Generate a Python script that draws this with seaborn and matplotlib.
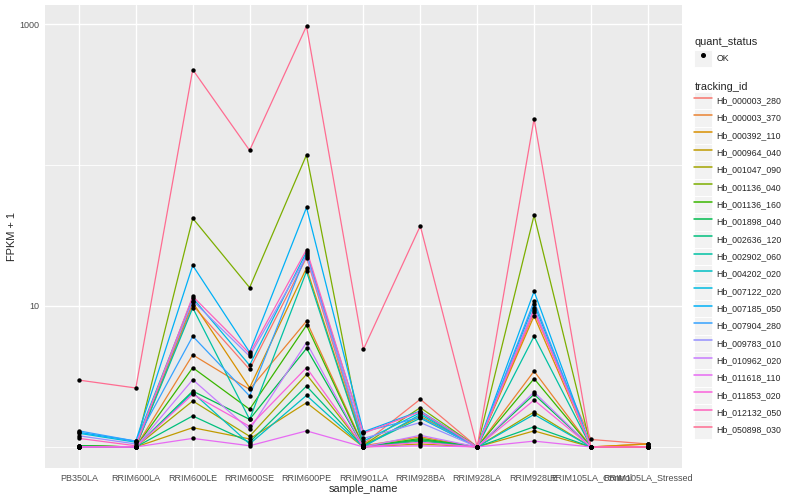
import pandas as pd
import numpy as np
import seaborn as sns
import matplotlib.pyplot as plt
from matplotlib.lines import Line2D
from matplotlib.patches import Rectangle
from matplotlib.legend_handler import HandlerLine2D
from matplotlib.ticker import FixedLocator, NullFormatter

# samples (x axis order)
samples = ["PB350LA", "RRIM600LA", "RRIM600LE", "RRIM600SE", "RRIM600PE",
           "RRIM901LA", "RRIM928BA", "RRIM928LA", "RRIM928LE",
           "RRIM105LA_Control", "RRIM105LA_Stressed"]

tracking_ids = ["Hb_000003_280", "Hb_000003_370", "Hb_000392_110", "Hb_000964_040",
                "Hb_001047_090", "Hb_001136_040", "Hb_001136_160", "Hb_001898_040",
                "Hb_002636_120", "Hb_002902_060", "Hb_004202_020", "Hb_007122_020",
                "Hb_007185_050", "Hb_007904_280", "Hb_009783_010", "Hb_010962_020",
                "Hb_011618_110", "Hb_011853_020", "Hb_012132_050", "Hb_050898_030"]

# FPKM + 1, one row per tracking_id, columns follow samples
fpkm1 = [
    [1.00, 1.00, 10.1, 3.55, 22.0, 1.05, 2.18, 1.0, 9.0, 1.13, 1.05],
    [1.00, 1.00, 4.5, 2.56, 7.8, 1.02, 1.18, 1.0, 3.45, 1.0, 1.05],
    [1.00, 1.00, 10.6, 2.63, 18.6, 1.03, 1.65, 1.0, 8.5, 1.0, 1.05],
    [1.00, 1.00, 1.37, 1.14, 2.06, 1.00, 1.05, 1.0, 1.30, 1.0, 1.0],
    [1.02, 1.00, 2.12, 1.19, 3.27, 1.00, 1.12, 1.0, 1.77, 1.0, 1.0],
    [1.02, 1.00, 41.9, 13.5, 118.0, 1.03, 1.90, 1.0, 44.0, 1.0, 1.0],
    [1.02, 1.00, 3.65, 1.85, 7.3, 1.00, 1.15, 1.0, 3.05, 1.0, 1.0],
    [1.02, 1.00, 2.49, 1.57, 5.0, 1.00, 1.13, 1.0, 2.36, 1.0, 1.0],
    [1.00, 1.00, 1.66, 1.08, 2.7, 1.00, 1.10, 1.0, 1.39, 1.0, 1.0],
    [1.00, 1.00, 9.7, 1.57, 17.6, 1.02, 1.60, 1.0, 6.1, 1.0, 1.0],
    [1.00, 1.00, 2.43, 1.05, 2.32, 1.00, 1.70, 1.0, 1.70, 1.0, 1.0],
    [1.25, 1.08, 11.4, 3.8, 24.2, 1.10, 1.75, 1.0, 10.3, 1.0, 1.0],
    [1.27, 1.10, 19.4, 4.7, 50.0, 1.28, 1.80, 1.0, 12.7, 1.0, 1.0],
    [1.30, 1.10, 6.1, 2.3, 23.4, 1.28, 1.62, 1.0, 10.8, 1.0, 1.0],
    [1.20, 1.05, 10.9, 4.4, 22.6, 1.15, 1.49, 1.0, 9.7, 1.0, 1.0],
    [1.00, 1.00, 3.0, 1.33, 5.5, 1.00, 1.21, 1.0, 2.45, 1.0, 1.0],
    [1.00, 1.00, 1.15, 1.02, 1.30, 1.00, 1.02, 1.0, 1.10, 1.0, 1.0],
    [1.00, 1.00, 2.36, 1.40, 3.65, 1.00, 1.08, 1.0, 2.15, 1.0, 1.0],
    [1.15, 1.02, 11.7, 4.6, 25.1, 1.25, 1.78, 1.0, 9.3, 1.0, 1.0],
    [2.98, 2.62, 475.0, 127.0, 968.0, 4.92, 37.0, 1.0, 213.0, 1.0, 1.0],
]

# ggplot hue palette, 20 levels
colors = ["#F8766D", "#EA8331", "#D89000", "#C09B00", "#A3A500", "#7CAE00",
          "#39B600", "#00BB4E", "#00BF7D", "#00C1A3", "#00BFC4", "#00BAE0",
          "#00B0F6", "#35A2FF", "#9590FF", "#C77CFF", "#E76BF3", "#FA62DB",
          "#FF62BC", "#FF6C91"]

rows = []
for tid, vals in zip(tracking_ids, fpkm1):
    for s, v in zip(samples, vals):
        rows.append({"tracking_id": tid, "sample_name": s, "fpkm1": v, "quant_status": "OK"})
df = pd.DataFrame(rows)

sns.set_style("darkgrid", {"axes.facecolor": "#EBEBEB", "grid.color": "white"})
plt.rcParams["font.family"] = ["Liberation Sans", "DejaVu Sans"]

fig, ax = plt.subplots(figsize=(8, 5), dpi=100)
fig.subplots_adjust(left=0.056, right=0.8525, top=0.99, bottom=0.064)

sns.lineplot(data=df, x="sample_name", y="fpkm1", hue="tracking_id",
             palette=colors, estimator=None, sort=False, linewidth=0.9,
             legend=False, ax=ax, zorder=3)
sns.scatterplot(data=df, x="sample_name", y="fpkm1", color="black", s=10,
                linewidth=0, legend=False, ax=ax, zorder=4)

ax.set_yscale("log")
ax.margins(y=0.05)
ax.set_xlim(-0.6, len(samples) - 0.4)
ax.yaxis.set_major_locator(FixedLocator([10, 1000]))
ax.yaxis.set_minor_locator(FixedLocator([1, 100]))
ax.yaxis.set_minor_formatter(NullFormatter())
ax.set_yticklabels(["10", "1000"])
ax.grid(which="major", color="white", linewidth=1.0)
ax.grid(which="minor", axis="y", color="white", linewidth=0.6)
ax.set_axisbelow(True)
for sp in ax.spines.values():
    sp.set_visible(False)
ax.tick_params(axis="both", which="major", length=2.5, width=0.6, color="#333333",
               labelsize=6.5, labelcolor="#4D4D4D", pad=1.5)
ax.tick_params(axis="y", which="minor", length=0)
ax.set_xlabel("sample_name", fontsize=7.9, labelpad=1)
ax.set_ylabel("FPKM + 1", fontsize=7.9, labelpad=1.5)


class KeyBox(HandlerLine2D):
    def create_artists(self, legend, orig_handle, xdescent, ydescent, width, height, fontsize, trans):
        box = Rectangle((-xdescent, -ydescent), width, height, facecolor="#F2F2F2",
                        edgecolor="white", linewidth=0.7, transform=trans)
        arts = super().create_artists(legend, orig_handle, xdescent, ydescent,
                                      width, height, fontsize, trans)
        return [box] + arts


common = dict(frameon=False, fontsize=6.3, title_fontsize=7.9, handlelength=2.0,
              handleheight=2.67, labelspacing=0, handletextpad=0.5,
              borderpad=0, borderaxespad=0, alignment="left")

qs_handle = [Line2D([], [], color="black", marker="o", markersize=2.6, linestyle="none")]
leg1 = fig.legend(qs_handle, ["OK"], title="quant_status", loc="upper left",
                  bbox_to_anchor=(0.868, 0.926), handler_map={Line2D: KeyBox()}, **common)

tid_handles = [Line2D([], [], color=c, linewidth=1.1) for c in colors]
leg2 = fig.legend(tid_handles, tracking_ids, title="tracking_id", loc="upper left",
                  bbox_to_anchor=(0.868, 0.836), handler_map={Line2D: KeyBox()}, **common)
leg1._legend_box.sep = 2
leg2._legend_box.sep = 0

fig.savefig("out.png", dpi=100)
